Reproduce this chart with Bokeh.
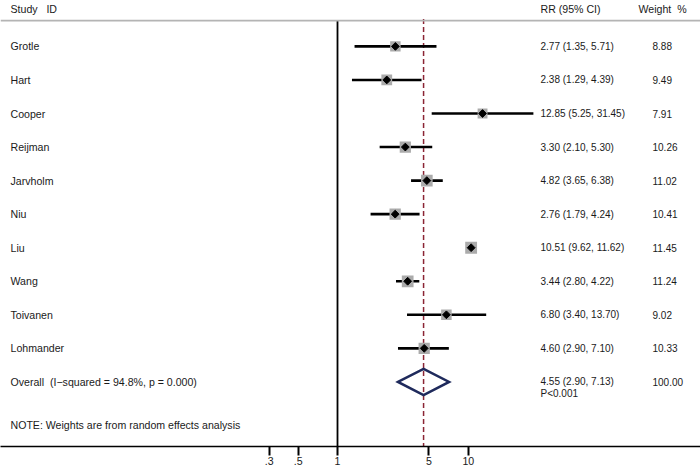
import numpy as np
from bokeh.plotting import figure
from bokeh.models import Range1d, Span, Label, FixedTicker, ColumnDataSource
from bokeh.embed import file_html
from bokeh.resources import INLINE

# ---- data ----
studies = ["Grotle", "Hart", "Cooper", "Reijman", "Jarvholm", "Niu", "Liu", "Wang", "Toivanen", "Lohmander"]
rr = [2.77, 2.38, 12.85, 3.30, 4.82, 2.76, 10.51, 3.44, 6.80, 4.60]
lo = [1.35, 1.29, 5.25, 2.10, 3.65, 1.79, 9.62, 2.80, 3.40, 2.90]
hi = [5.71, 4.39, 31.45, 5.30, 6.38, 4.24, 11.62, 4.22, 13.70, 7.10]
weights = [8.88, 9.49, 7.91, 10.26, 11.02, 10.41, 11.45, 11.24, 9.02, 10.33]
overall_label = "Overall\u00a0 (I\u2212squared = 94.8%, p = 0.000)"
overall_rr, overall_lo, overall_hi = 4.55, 2.90, 7.13
overall_weight = "100.00"
overall_p = "P<0.001"
note = "NOTE: Weights are from random effects analysis"
tick_values = [0.3, 0.5, 1, 5, 10]
tick_labels = [".3", ".5", "1", "5", "10"]

FONT = "Liberation Sans"
FS = "10.6px"
NUMFS = "10px"
TXT = "#1a1a1a"
NB = "\u00a0"

rows = list(range(1, len(studies) + 1))
overall_row = len(studies) + 1
top_rule = 0.231
bottom = 12.925

W, H = 700, 467
p = figure(width=W, height=H, output_backend="svg", toolbar_location=None,
           x_axis_type="log", y_axis_location=None,
           x_range=Range1d(10 ** -2.5765, 10 ** 2.7752),
           y_range=Range1d(bottom, -0.368),
           min_border_left=0, min_border_right=0, min_border_top=0, min_border_bottom=0)
p.outline_line_color = None
p.grid.visible = False
p.background_fill_color = "white"
p.border_fill_color = "white"

ax = p.xaxis[0]
ax.ticker = FixedTicker(ticks=tick_values)
ax.major_label_overrides = {v: l for v, l in zip(tick_values, tick_labels)}
ax.minor_tick_line_color = None
ax.major_tick_in = 0
ax.major_tick_out = 9
ax.major_tick_line_width = 2
ax.axis_line_width = 1.6
ax.axis_line_color = "black"
ax.major_label_text_font = FONT
ax.major_label_text_font_size = "10.6px"
ax.major_label_text_color = TXT
ax.major_label_standoff = 1

# header rule
p.add_layout(Span(location=top_rule, dimension="width", line_color="#b4b4b4", line_width=1.8))

# null line at 1
p.segment(x0=[1], y0=[top_rule], x1=[1], y1=[bottom], line_color="black", line_width=1.8)
# overall dashed line
p.segment(x0=[overall_rr], y0=[top_rule - 0.05], x1=[overall_rr], y1=[bottom],
          line_color="#8b2434", line_width=1.5, line_dash="5 3")

src = ColumnDataSource(dict(y=rows, rr=rr, lo=lo, hi=hi,
                            size=[3.5 * np.sqrt(w) for w in weights]))
p.segment(x0="lo", y0="y", x1="hi", y1="y", source=src, line_color="black", line_width=2.6)
p.scatter(x="rr", y="y", size="size", marker="square", source=src,
          fill_color="#ababab", line_color=None)
p.scatter(x="rr", y="y", size=5.5, marker="square", angle=np.pi / 4, source=src,
          fill_color="black", line_color="black")

# overall diamond
h = 0.39
p.patch(x=[overall_lo, overall_rr, overall_hi, overall_rr, overall_lo],
        y=[overall_row, overall_row - h, overall_row, overall_row + h, overall_row],
        fill_alpha=0.0, line_color="#1f2a5c", line_width=2.5, line_join="miter")

def lab(x, y, text, size=FS):
    p.add_layout(Label(x=x, y=y, x_units="screen", y_units="data", text=text,
                       text_font=FONT, text_font_size=size, text_align="left",
                       text_baseline="middle", text_color=TXT))

X_NAME, X_RR, X_W, X_WH = 10, 540, 652, 638

# header
lab(X_NAME, -0.129, "Study" + NB * 3 + "ID")
lab(X_RR, -0.129, "RR (95% CI)")
lab(X_WH, -0.129, "Weight" + NB * 2 + "%")

for y, s, r, l, hh, w in zip(rows, studies, rr, lo, hi, weights):
    lab(X_NAME, y, s)
    lab(X_RR, y, f"{r:.2f} ({l:.2f}, {hh:.2f})", NUMFS)
    lab(X_W, y, f"{w:.2f}", NUMFS)

lab(X_NAME, overall_row, overall_label)
lab(X_RR, overall_row, f"{overall_rr:.2f} ({overall_lo:.2f}, {overall_hi:.2f})", NUMFS)
lab(X_W, overall_row, overall_weight, NUMFS)
lab(X_RR, overall_row + 0.36, overall_p, NUMFS)
lab(X_NAME, 12.28, note)

open("out.html", "w").write(file_html(p, INLINE))
